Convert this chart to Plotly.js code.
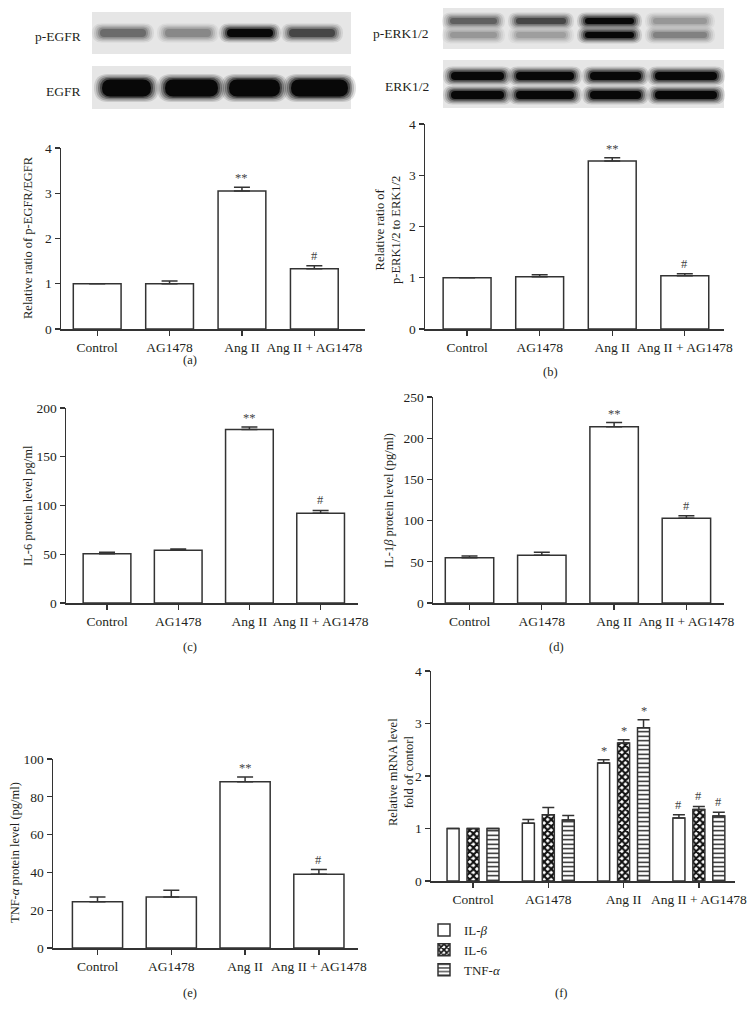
<!DOCTYPE html>
<html><head><meta charset="utf-8">
<script src="https://cdn.plot.ly/plotly-3.0.1.min.js"></script>
<style>html,body{margin:0;padding:0;background:#fff}#chart{width:752px;height:1017px}</style>
</head><body><div id="chart"></div><script>
// ---------- data ----------
const groups = ['Control', 'AG1478', 'Ang II', 'Ang II + AG1478'];

const egfrRatio = [1.0, 1.0, 3.05, 1.33];
const egfrRatioErr = [0, 0.06, 0.08, 0.07];
const egfrMarks = ['', '', '**', '#'];

const erkRatio = [1.0, 1.02, 3.28, 1.04];
const erkRatioErr = [0, 0.04, 0.06, 0.04];
const erkMarks = ['', '', '**', '#'];

const il6Protein = [50.5, 54, 178, 92];
const il6ProteinErr = [1.5, 1.5, 2.5, 3];
const il6Marks = ['', '', '**', '#'];

const il1bProtein = [55, 58, 214, 103];
const il1bProteinErr = [2, 3.5, 5, 3];
const il1bMarks = ['', '', '**', '#'];

const tnfProtein = [24.5, 27, 88, 39];
const tnfProteinErr = [2.5, 3.5, 2.5, 2.5];
const tnfMarks = ['', '', '**', '#'];

const mrnaSeries = ['IL-<i>β</i>', 'IL-6', 'TNF-<i>α</i>'];
const mrnaIL1b = [1.0, 1.1, 2.25, 1.2];
const mrnaIL1bErr = [0, 0.07, 0.06, 0.06];
const mrnaIL6 = [1.0, 1.26, 2.63, 1.36];
const mrnaIL6Err = [0, 0.14, 0.06, 0.06];
const mrnaTNF = [1.0, 1.16, 2.92, 1.24];
const mrnaTNFErr = [0, 0.09, 0.15, 0.07];
const mrnaMarks = ['', '', '*', '#'];

// western blot band darkness per lane (0 = none, 1 = saturated)
const blotPEGFR = [0.55, 0.42, 1.0, 0.72];
const blotEGFR = [1, 1, 1, 1];
const blotPERKupper = [0.6, 0.72, 1.0, 0.35];
const blotPERKlower = [0.35, 0.32, 1.0, 0.45];
const blotERKupper = [1, 1, 1, 1];
const blotERKlower = [1, 1, 1, 1];

// ---------- layout helpers ----------
const W = 752, H = 1017;
const px = x => x / W, py = y => 1 - y / H;
const FONT = 'Liberation Serif, Times New Roman, serif';
const INK = '#231f20';
const AX = '#333';

const panels = [
  {series: [egfrRatio], errs: [egfrRatioErr], marks: [egfrMarks], dom: [61, 365, 148, 329], xr: [-0.5, 3.7], yr: [0, 4], dt: 1, bw: 0.66,
   title: 'Relative ratio of p-EGFR/EGFR', tx: 28, ty: 238, lab: '(a)', lx: 190, ly: 360},
  {series: [erkRatio], errs: [erkRatioErr], marks: [erkMarks], dom: [425, 724, 124, 329], xr: [-0.58, 3.54], yr: [0, 4], dt: 1, bw: 0.66,
   title: 'Relative ratio of<br>p-ERK1/2 to ERK1/2', tx: 388, ty: 230, lab: '(b)', lx: 550, ly: 372},
  {series: [il6Protein], errs: [il6ProteinErr], marks: [il6Marks], dom: [66, 358, 408, 603], xr: [-0.576, 3.525], yr: [0, 200], dt: 50, bw: 0.67,
   title: 'IL-6 protein level pg/ml', tx: 28, ty: 506, lab: '(c)', lx: 190, ly: 647},
  {series: [il1bProtein], errs: [il1bProteinErr], marks: [il1bMarks], dom: [433, 724, 397, 603], xr: [-0.505, 3.52], yr: [0, 250], dt: 50, bw: 0.67,
   title: 'IL-1<i>β</i> protein level (pg/ml)', tx: 389, ty: 501, lab: '(d)', lx: 556, ly: 647},
  {series: [tnfProtein], errs: [tnfProteinErr], marks: [tnfMarks], dom: [53, 358, 759, 948], xr: [-0.603, 3.53], yr: [0, 100], dt: 20, bw: 0.68,
   title: 'TNF-<i>α</i> protein level (pg/ml)', tx: 15, ty: 853, lab: '(e)', lx: 190, ly: 993},
  {series: [mrnaIL1b, mrnaIL6, mrnaTNF], errs: [mrnaIL1bErr, mrnaIL6Err, mrnaTNFErr], marks: [mrnaMarks, mrnaMarks, mrnaMarks],
   dom: [431, 735, 671, 881], xr: [-0.558, 3.48], yr: [0, 4], dt: 1, bw: 0.16, grouped: true,
   title: 'Relative mRNA level<br>fold of contorl', tx: 401, ty: 772, lab: '(f)', lx: 561, ly: 993}
];

const patterns = [
  {shape: ''},
  {shape: 'x', fgcolor: '#111', bgcolor: '#fff', size: 5, solidity: 0.65},
  {shape: '-', fgcolor: '#111', bgcolor: '#fff', size: 4.5, solidity: 0.3}
];
const groupOffsets = [-0.265, 0, 0.265];

const data = [];
const layout = {
  width: W, height: H, margin: {l: 0, r: 0, t: 0, b: 0},
  paper_bgcolor: '#fff', plot_bgcolor: 'rgba(0,0,0,0)',
  font: {family: FONT, color: INK, size: 13},
  showlegend: true, barmode: 'overlay',
  legend: {x: px(424), y: py(915), xanchor: 'left', yanchor: 'top', bgcolor: 'rgba(0,0,0,0)',
           font: {family: FONT, size: 13, color: INK}, tracegroupgap: 0, itemwidth: 30},
  annotations: [], shapes: []
};

panels.forEach((p, i) => {
  const n = i + 1;
  const xa = 'xaxis' + (n === 1 ? '' : n), ya = 'yaxis' + (n === 1 ? '' : n);
  const xr = 'x' + (n === 1 ? '' : n), yr = 'y' + (n === 1 ? '' : n);
  layout[xa] = {
    domain: [px(p.dom[0]), px(p.dom[1])], range: p.xr, type: 'category', anchor: yr,
    showline: true, linecolor: AX, linewidth: 1.5, ticks: 'outside', ticklen: 5, tickwidth: 1.3, tickcolor: AX,
    showgrid: false, zeroline: false, tickfont: {family: FONT, size: 13.5, color: INK}, fixedrange: true
  };
  layout[ya] = {
    domain: [py(p.dom[3]), py(p.dom[2])], range: p.yr, dtick: p.dt, tick0: 0, anchor: xr,
    showline: true, linecolor: AX, linewidth: 1.5, ticks: 'outside', ticklen: 5, tickwidth: 1.3, tickcolor: AX,
    showgrid: false, zeroline: false, tickfont: {family: FONT, size: 13.5, color: INK}, fixedrange: true
  };
  p.series.forEach((vals, k) => {
    const off = p.grouped ? groupOffsets[k] : 0;
    const tr = {
      type: 'bar', x: groups, y: vals, xaxis: xr, yaxis: yr, width: p.bw,
      marker: {color: '#fff', line: {color: AX, width: 1.5}},
      error_y: {type: 'data', symmetric: false, array: p.errs[k], arrayminus: vals.map(() => 0),
                color: AX, thickness: 1.5, width: p.grouped ? 6 : 8},
      showlegend: false, hoverinfo: 'skip', cliponaxis: false
    };
    if (p.grouped) {
      tr.offset = off - p.bw / 2;
      tr.name = mrnaSeries[k];
      tr.showlegend = true;
      if (patterns[k].shape) tr.marker.pattern = patterns[k];
    }
    data.push(tr);
    p.marks[k].forEach((m, j) => {
      if (!m) return;
      layout.annotations.push({
        xref: xr, yref: yr, x: j + off, y: vals[j] + p.errs[k][j], text: m, showarrow: false,
        yanchor: 'bottom', yshift: m === '#' ? 1 : 0, font: {family: FONT, size: 12.5, color: '#444'}
      });
    });
  });
  layout.annotations.push({
    xref: 'paper', yref: 'paper', x: px(p.tx), y: py(p.ty), text: p.title, textangle: -90, showarrow: false,
    xanchor: 'center', yanchor: 'middle', font: {family: FONT, size: 12.5, color: INK}
  });
  layout.annotations.push({
    xref: 'paper', yref: 'paper', x: px(p.lx), y: py(p.ly), text: p.lab, showarrow: false,
    xanchor: 'center', yanchor: 'middle', font: {family: FONT, size: 12.5, color: INK}
  });
});

// ---------- western blots drawn as shapes ----------
function pill(x0, x1, yc, h, color) {
  const r = Math.min(h / 2, (x1 - x0) / 2);
  const t = yc - h / 2, b = yc + h / 2;
  const P = (x, y) => px(x).toFixed(5) + ',' + py(y).toFixed(5);
  const path = 'M' + P(x0 + r, t) + ' L' + P(x1 - r, t) + ' Q' + P(x1, t) + ' ' + P(x1, yc) +
    ' Q' + P(x1, b) + ' ' + P(x1 - r, b) + ' L' + P(x0 + r, b) + ' Q' + P(x0, b) + ' ' + P(x0, yc) +
    ' Q' + P(x0, t) + ' ' + P(x0 + r, t) + ' Z';
  return {type: 'path', xref: 'paper', yref: 'paper', path: path, fillcolor: color, line: {width: 0}, layer: 'above'};
}
function blotBg(x0, x1, y0, y1) {
  layout.shapes.push({type: 'rect', xref: 'paper', yref: 'paper', x0: px(x0), x1: px(x1), y0: py(y1), y1: py(y0),
    fillcolor: '#e6e6e6', line: {width: 0}, layer: 'above'});
}
function bands(lanes, darkness, yc, h) {
  lanes.forEach((ln, i) => {
    const d = darkness[i];
    const g = Math.round(228 - d * 220);
    const rgba = a => 'rgba(' + g + ',' + g + ',' + g + ',' + a + ')';
    const grow = [8, 6, 4, 2];
    const alpha = [0.12, 0.18, 0.28, 0.45];
    grow.forEach((gr, q) => layout.shapes.push(pill(ln[0] - gr, ln[1] + gr, yc, h + gr * 1.4, rgba(alpha[q]))));
    layout.shapes.push(pill(ln[0], ln[1], yc, h, rgba(1)));
  });
}
// p-EGFR / EGFR
blotBg(92, 351, 12, 54);
bands([[100, 146], [165, 211], [227, 273], [289, 335]], blotPEGFR, 33, 8);
blotBg(92, 351, 66, 109);
bands([[102, 151], [165, 218], [229, 280], [291, 348]], blotEGFR, 88, 17);
// p-ERK1/2 / ERK1/2
blotBg(443, 724, 8, 49);
bands([[450, 497], [516, 566], [585, 634], [653, 707]], blotPERKupper, 21, 6);
bands([[450, 497], [516, 566], [585, 634], [653, 707]], blotPERKlower, 35, 6);
blotBg(443, 724, 60, 108);
bands([[451, 504], [516, 574], [590, 641], [655, 717]], blotERKupper, 76, 8);
bands([[451, 504], [516, 574], [590, 641], [655, 717]], blotERKlower, 95, 8);

[['p-EGFR', 83, 36], ['EGFR', 83, 91], ['p-ERK1/2', 431, 33], ['ERK1/2', 431, 86]].forEach(b => {
  layout.annotations.push({xref: 'paper', yref: 'paper', x: px(b[1]), y: py(b[2]), text: b[0], showarrow: false,
    xanchor: 'right', yanchor: 'middle', font: {family: FONT, size: 13.5, color: INK}});
});

Plotly.newPlot('chart', data, layout, {displayModeBar: false, staticPlot: true});
</script></body></html>
